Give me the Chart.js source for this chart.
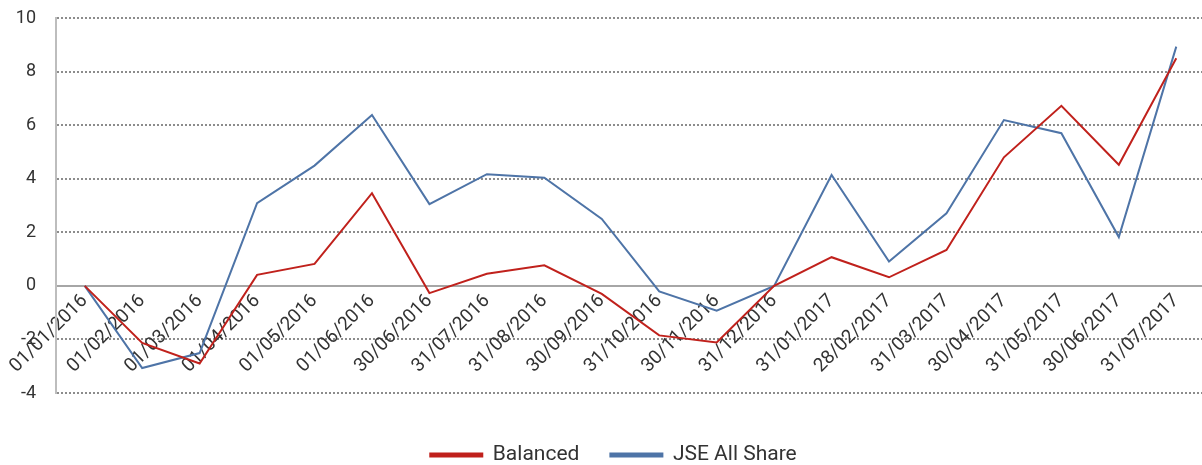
<!DOCTYPE html>
<html>
<head>
<meta charset="utf-8">
<script src="https://cdn.jsdelivr.net/npm/chart.js@4"></script>
<style>
  html, body { margin: 0; padding: 0; background: #fff; overflow: hidden; }
  #wrap { width: 1205px; height: 465px; }
</style>
</head>
<body>
<div id="wrap"><canvas id="chart"></canvas></div>
<script>
// Data
const dates = ['01/01/2016', '01/02/2016', '01/03/2016', '01/04/2016', '01/05/2016', '01/06/2016',
    '30/06/2016', '31/07/2016', '31/08/2016', '30/09/2016', '31/10/2016', '30/11/2016', '31/12/2016',
    '31/01/2017', '28/02/2017', '31/03/2017', '30/04/2017', '31/05/2017', '30/06/2017', '31/07/2017'];
const balanced = [0, -2.13, -2.9, 0.41, 0.82, 3.46, -0.27, 0.45, 0.77, -0.3, -1.85, -2.11, 0,
    1.07, 0.32, 1.34, 4.8, 6.72, 4.52, 8.5];
const jseAllShare = [0, -3.07, -2.51, 3.09, 4.49, 6.38, 3.05, 4.17, 4.04, 2.5, -0.21, -0.93, 0,
    4.14, 0.91, 2.71, 6.19, 5.7, 1.82, 8.93];
const yMin = -4, yMax = 10, yStep = 2;

const red = '#c0211c';
const blue = '#4e74a7';
const textColor = '#333333';
const fontFamily = 'Roboto, "DejaVu Sans", sans-serif';

// nudge the legend a little right, like the original
const legendShift = {
    id: 'legendShift',
    afterLayout(chart) {
        if (chart.legend) {
            chart.legend.left += 11;
            chart.legend.right += 11;
        }
    }
};

const chart = new Chart(document.getElementById('chart'), {
    type: 'line',
    data: {
        labels: dates,
        datasets: [{
            label: 'Balanced',
            data: balanced,
            borderColor: red,
            backgroundColor: red,
            borderWidth: 2,
            pointRadius: 0,
            tension: 0,
        }, {
            label: 'JSE All Share',
            data: jseAllShare,
            borderColor: blue,
            backgroundColor: blue,
            borderWidth: 2,
            pointRadius: 0,
            tension: 0,
        }]
    },
    plugins: [legendShift],
    options: {
        responsive: true,
        maintainAspectRatio: false,
        animation: false,
        layout: { padding: { top: 18, right: 0, bottom: 0, left: 0 } },
        plugins: {
            tooltip: { enabled: false },
            legend: {
                position: 'bottom',
                maxHeight: 72,
                // empty title only used to push the legend row down
                title: { display: true, text: '', font: { size: 10, lineHeight: 1 }, padding: { top: 0, bottom: 10.6 } },
                labels: {
                    color: textColor,
                    font: { family: fontFamily, size: 21 },
                    boxWidth: 52,
                    boxHeight: 3,
                    padding: 31,
                }
            }
        },
        scales: {
            x: {
                position: { y: 0 },
                offset: true,
                afterFit: (scale) => {
                    scale.height = 0;
                    scale.paddingRight = 0;
                },
                grid: { display: false, drawTicks: false },
                border: { display: true, color: '#a6a6a6', width: 2 },
                ticks: {
                    color: textColor,
                    font: { family: fontFamily, size: 19 },
                    minRotation: 45,
                    maxRotation: 45,
                    autoSkip: false,
                    padding: 4,
                }
            },
            y: {
                min: yMin,
                max: yMax,
                afterFit: (scale) => {
                    scale.width = 56;
                    scale.paddingTop = 0;
                },
                grid: {
                    color: '#8c8c8c',
                    lineWidth: 2,
                    drawTicks: false,
                },
                border: { display: true, color: '#bdbdbd', width: 2, dash: [2, 2] },
                ticks: {
                    stepSize: yStep,
                    color: textColor,
                    font: { family: fontFamily, size: 18 },
                    padding: 20,
                }
            }
        }
    }
});
</script>
</body>
</html>
